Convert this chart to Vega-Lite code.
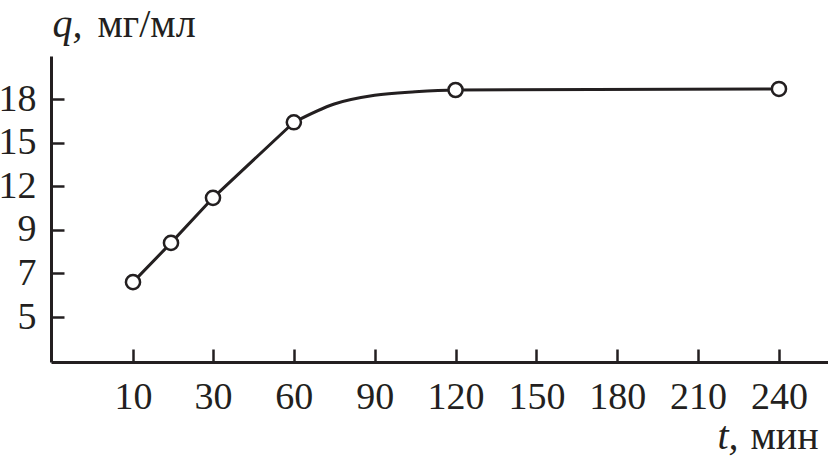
{
  "$schema": "https://vega.github.io/schema/vega-lite/v6.json",
  "width": 777,
  "height": 306,
  "autosize": {"type": "none"},
  "padding": {"left": 51, "top": 56, "right": 0, "bottom": 101},
  "background": "white",
  "config": {"view": {"stroke": null}, "font": "Liberation Serif"},
  "data": {
    "values": [
      {"t": 10, "q": 6.6, "kind": "marker"},
      {"t": 19.5, "q": 8.4, "kind": "marker"},
      {"t": 30, "q": 11.2, "kind": "marker"},
      {"t": 60, "q": 16.4, "kind": "marker"},
      {"t": 75, "q": 17.66, "kind": "curve"},
      {"t": 90, "q": 18.26, "kind": "curve"},
      {"t": 105, "q": 18.5, "kind": "curve"},
      {"t": 120, "q": 18.62, "kind": "marker"},
      {"t": 240, "q": 18.69, "kind": "marker"}
    ]
  },
  "layer": [
    {
      "transform": [{"filter": "datum.t <= 60"}],
      "mark": {"type": "line", "interpolate": "linear", "color": "#231f20", "strokeWidth": 3},
      "encoding": {
        "x": {
          "field": "t", "type": "quantitative",
          "scale": {"domain": [-10.5, 30, 258.2], "range": [0, 162, 777], "zero": false, "nice": false},
          "axis": {
            "orient": "bottom",
            "values": [10, 30, 60, 90, 120, 150, 180, 210, 240],
            "grid": false,
            "domainColor": "#231f20", "domainWidth": 3,
            "tickColor": "#231f20", "tickWidth": 2.5, "tickSize": -13,
            "labelPadding": 59, "labelBaseline": "alphabetic", "labelAlign": "center",
            "labelFont": "Liberation Serif", "labelFontSize": 38, "labelColor": "#231f20",
            "labelFlush": false, "labelOverlap": false,
            "title": "t,", "titleFont": "Liberation Serif", "titleFontStyle": "italic", "titleFontWeight": "normal",
            "titleFontSize": 40, "titleColor": "#231f20",
            "titleX": 666, "titleY": 86, "titleAlign": "left", "titleBaseline": "alphabetic", "titleAngle": 0
          }
        },
        "y": {
          "field": "q", "type": "quantitative",
          "scale": {"domain": [2.94, 9, 20.96], "range": [306, 173.8, 0], "zero": false, "nice": false},
          "axis": {
            "orient": "left",
            "values": [5, 7, 9, 12, 15, 18],
            "grid": false,
            "domainColor": "#231f20", "domainWidth": 3,
            "tickColor": "#231f20", "tickWidth": 2.5, "tickSize": -13,
            "labelPadding": 28, "labelBaseline": "middle", "labelAlign": "right",
            "labelFont": "Liberation Serif", "labelFontSize": 38, "labelColor": "#231f20",
            "labelFlush": false, "labelOverlap": false,
            "title": "q,", "titleFont": "Liberation Serif", "titleFontStyle": "italic", "titleFontWeight": "normal",
            "titleFontSize": 40, "titleColor": "#231f20",
            "titleX": 1, "titleY": -20, "titleAlign": "left", "titleBaseline": "alphabetic", "titleAngle": 0
          }
        }
      }
    },
    {
      "transform": [{"filter": "datum.t >= 60"}],
      "mark": {"type": "line", "interpolate": "monotone", "color": "#231f20", "strokeWidth": 3},
      "encoding": {
        "x": {
          "field": "t", "type": "quantitative",
          "scale": {"domain": [-10.5, 30, 258.2], "range": [0, 162, 777], "zero": false, "nice": false},
          "axis": null
        },
        "y": {
          "field": "q", "type": "quantitative",
          "scale": {"domain": [2.94, 9, 20.96], "range": [306, 173.8, 0], "zero": false, "nice": false},
          "axis": null
        }
      }
    },
    {
      "transform": [{"filter": "datum.kind === 'marker'"}],
      "mark": {"type": "point", "shape": "circle", "filled": true, "fill": "white", "stroke": "#231f20", "strokeWidth": 2.5, "size": 200, "opacity": 1},
      "encoding": {
        "x": {
          "field": "t", "type": "quantitative",
          "scale": {"domain": [-10.5, 30, 258.2], "range": [0, 162, 777], "zero": false, "nice": false},
          "axis": {
            "orient": "bottom", "domain": false, "ticks": false, "labels": false, "grid": false,
            "title": "мин", "titleFont": "Liberation Serif", "titleFontStyle": "normal", "titleFontWeight": "normal",
            "titleFontSize": 40, "titleColor": "#231f20",
            "titleX": 699, "titleY": 86, "titleAlign": "left", "titleBaseline": "alphabetic", "titleAngle": 0
          }
        },
        "y": {
          "field": "q", "type": "quantitative",
          "scale": {"domain": [2.94, 9, 20.96], "range": [306, 173.8, 0], "zero": false, "nice": false},
          "axis": {
            "orient": "left", "domain": false, "ticks": false, "labels": false, "grid": false,
            "title": "мг/мл", "titleFont": "Liberation Serif", "titleFontStyle": "normal", "titleFontWeight": "normal",
            "titleFontSize": 40, "titleColor": "#231f20",
            "titleX": 46, "titleY": -20, "titleAlign": "left", "titleBaseline": "alphabetic", "titleAngle": 0
          }
        }
      }
    }
  ],
  "resolve": {"axis": {"x": "independent", "y": "independent"}}
}
